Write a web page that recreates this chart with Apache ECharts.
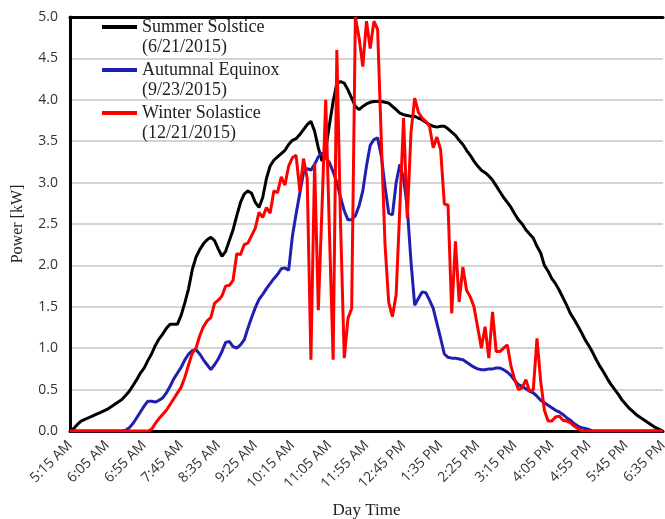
<!DOCTYPE html>
<html>
<head>
<meta charset="utf-8">
<script src="https://cdn.jsdelivr.net/npm/echarts@6/dist/echarts.min.js"></script>
<style>html,body{margin:0;padding:0;background:#fff}#c{width:665px;height:519px}</style>
</head>
<body>
<div id="c"></div>
<script>
// Time categories: 5-minute steps from 5:15 AM to 6:35 PM
const categories = [];
for (let m = 5 * 60 + 15; m <= 18 * 60 + 35; m += 5) {
  const h = Math.floor(m / 60), mm = m % 60;
  const h12 = h > 12 ? h - 12 : h;
  categories.push(h12 + ':' + String(mm).padStart(2, '0') + ' ' + (h < 12 ? 'AM' : 'PM'));
}

const seriesNames = ['Summer Solstice\n(6/21/2015)', 'Autumnal Equinox\n(9/23/2015)', 'Winter Solastice\n(12/21/2015)'];

const summer = [
  0.00,0.03,0.08,0.12,0.14,0.16,0.18,0.20,0.22,0.24,
  0.26,0.29,0.32,0.35,0.38,0.43,0.48,0.55,0.62,0.70,
  0.76,0.85,0.93,1.03,1.11,1.17,1.24,1.29,1.29,1.29,
  1.40,1.55,1.72,1.95,2.10,2.19,2.26,2.31,2.34,2.30,
  2.20,2.11,2.17,2.30,2.43,2.60,2.76,2.86,2.90,2.87,
  2.76,2.70,2.82,3.05,3.20,3.27,3.31,3.35,3.39,3.46,
  3.51,3.53,3.58,3.64,3.70,3.74,3.62,3.42,3.26,3.40,
  3.70,3.98,4.20,4.22,4.20,4.12,4.02,3.92,3.88,3.92,
  3.95,3.97,3.98,3.98,3.98,3.97,3.96,3.92,3.88,3.84,
  3.82,3.81,3.80,3.80,3.78,3.76,3.73,3.70,3.68,3.67,
  3.68,3.68,3.65,3.61,3.57,3.51,3.46,3.39,3.33,3.26,
  3.20,3.15,3.12,3.08,3.03,2.96,2.89,2.82,2.76,2.70,
  2.62,2.55,2.50,2.43,2.38,2.33,2.23,2.15,2.00,1.93,
  1.84,1.78,1.70,1.61,1.52,1.42,1.35,1.27,1.19,1.10,
  1.03,0.95,0.86,0.78,0.71,0.63,0.56,0.50,0.44,0.37,
  0.32,0.27,0.23,0.19,0.16,0.13,0.10,0.07,0.04,0.02,
  0.00
];

const autumn = [
  0,0,0,0,0,0,0,0,0,0,
  0,0,0,0,0,0.01,0.04,0.09,0.16,0.23,
  0.30,0.36,0.36,0.35,0.37,0.40,0.46,0.54,0.63,0.70,
  0.77,0.86,0.93,0.97,0.98,0.93,0.86,0.80,0.74,0.80,
  0.87,0.96,1.07,1.08,1.02,1.00,1.04,1.10,1.24,1.37,
  1.49,1.59,1.65,1.72,1.78,1.84,1.89,1.96,1.97,1.94,
  2.35,2.62,2.87,3.12,3.17,3.15,3.22,3.31,3.36,3.30,
  3.24,3.13,3.00,2.82,2.66,2.55,2.55,2.60,2.72,2.90,
  3.20,3.45,3.52,3.54,3.32,2.95,2.63,2.61,3.00,3.22,
  3.05,2.70,2.05,1.52,1.60,1.68,1.67,1.58,1.48,1.30,
  1.12,0.93,0.89,0.88,0.88,0.87,0.86,0.83,0.80,0.77,
  0.75,0.74,0.74,0.75,0.75,0.76,0.76,0.74,0.71,0.67,
  0.61,0.56,0.54,0.51,0.48,0.46,0.42,0.37,0.34,0.31,
  0.28,0.25,0.23,0.20,0.16,0.13,0.09,0.06,0.04,0.03,
  0.02,0,0,0,0,0,0,0,0,0,
  0,0,0,0,0,0,0,0,0,0,
  0
];

const winter = [
  0,0,0,0,0,0,0,0,0,0,
  0,0,0,0,0,0,0,0,0,0,
  0,0,0.02,0.09,0.15,0.20,0.25,0.32,0.39,0.46,
  0.53,0.65,0.80,0.94,1.00,1.15,1.26,1.33,1.37,1.54,
  1.58,1.63,1.75,1.76,1.82,2.14,2.13,2.25,2.27,2.36,
  2.45,2.64,2.58,2.70,2.63,2.90,2.88,3.07,2.97,3.20,
  3.30,3.33,2.90,3.29,3.05,0.86,3.23,1.46,2.70,4.00,
  2.40,0.86,4.60,2.50,0.88,1.36,1.48,5.00,4.75,4.40,
  4.95,4.62,4.95,4.85,3.50,2.25,1.55,1.38,1.65,2.70,
  3.78,2.57,3.60,4.02,3.85,3.78,3.74,3.68,3.42,3.55,
  3.40,2.74,2.73,1.42,2.29,1.56,1.98,1.70,1.62,1.50,
  1.25,1.00,1.26,0.88,1.44,0.96,0.96,1.00,1.04,0.78,
  0.62,0.50,0.52,0.62,0.48,0.50,1.12,0.60,0.25,0.12,
  0.12,0.17,0.18,0.13,0.12,0.10,0.06,0.03,0,0,
  0,0,0,0,0,0,0,0,0,0,
  0,0,0,0,0,0,0,0,0,0,
  0
];

const colors = ['#000000', '#1f1fb0', '#ff0000'];
const serif = '"Liberation Serif", "Times New Roman", serif';
const sans = '"Open Sans", "Liberation Sans", sans-serif';

function legendAt(name, top) {
  return {
    data: [name], left: 97, top: top, orient: 'vertical', padding: 5,
    itemWidth: 35, itemHeight: 4, icon: 'rect', itemGap: 0,
    selectedMode: false,
    // leading blank line keeps the first text line level with the icon
    formatter: n => '\u00a0\n' + n,
    textStyle: { fontFamily: serif, fontSize: 18, lineHeight: 20, color: '#222' }
  };
}

const chart = echarts.init(document.getElementById('c'), null, { renderer: 'canvas' });
chart.setOption({
  animation: false,
  backgroundColor: '#fff',
  color: colors,
  grid: { left: 70, right: 2, top: 17, bottom: 88, containLabel: false, outerBoundsMode: 'none' },
  legend: [legendAt(seriesNames[0], -8), legendAt(seriesNames[1], 35), legendAt(seriesNames[2], 78)],
  xAxis: [{
    type: 'category', data: categories, boundaryGap: false,
    name: 'Day Time', nameLocation: 'middle', nameGap: 71,
    nameTextStyle: { fontFamily: serif, fontSize: 17, color: '#222' },
    axisLine: { show: true, lineStyle: { color: '#000', width: 3 } },
    axisTick: { show: false },
    axisLabel: { interval: 9, rotate: 45, margin: 12, fontFamily: sans, fontSize: 14, color: '#333' },
    splitLine: { show: false }
  }, {
    type: 'value', position: 'top', min: 0, max: 1,
    axisLine: { show: true, onZero: false, lineStyle: { color: '#000', width: 3 } },
    axisTick: { show: false }, axisLabel: { show: false }, splitLine: { show: false }
  }],
  yAxis: {
    type: 'value', min: 0, max: 5, interval: 0.5,
    name: 'Power [kW]', nameLocation: 'middle', nameGap: 44,
    nameTextStyle: { fontFamily: serif, fontSize: 16, color: '#222' },
    axisLine: { show: true, lineStyle: { color: '#000', width: 3 } },
    axisTick: { show: false },
    axisLabel: { margin: 12, fontFamily: sans, fontSize: 14, color: '#333', formatter: v => v.toFixed(1) },
    splitLine: { show: true, lineStyle: { color: '#d4d4d4', width: 2 } }
  },
  series: [
    { name: seriesNames[0], type: 'line', data: summer, showSymbol: false, lineStyle: { width: 3, color: colors[0] }, z: 2 },
    { name: seriesNames[1], type: 'line', data: autumn, showSymbol: false, lineStyle: { width: 3, color: colors[1] }, z: 3 },
    { name: seriesNames[2], type: 'line', data: winter, showSymbol: false, lineStyle: { width: 3, color: colors[2] }, z: 4 }
  ]
});
</script>
</body>
</html>
